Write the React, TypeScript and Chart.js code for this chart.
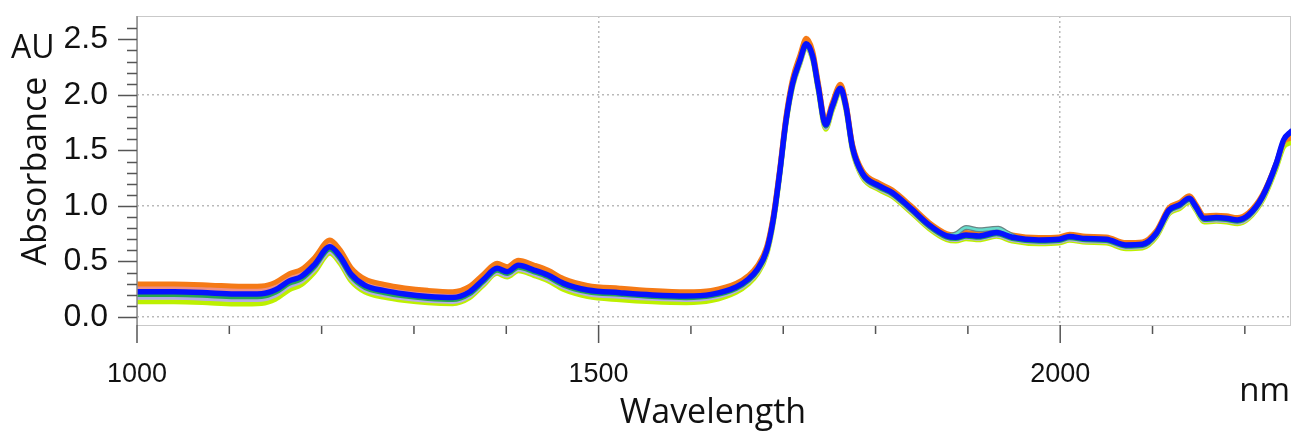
import { useEffect, useRef } from 'react';
import { Chart, registerables } from 'chart.js';

Chart.register(...registerables);

const wavelengths = [1000,1040,1080,1110,1135,1150,1165,1178,1192,1209,1220,1232,1247,1268,1290,1315,1342,1360,1375,1390,1401,1413,1430,1445,1462,1488,1523,1558,1595,1622,1649,1662,1672,1682,1689,1696,1703,1710,1718,1725,1732,1738,1746,1753,1762,1768,1775,1786,1804,1818,1838,1858,1877,1887,1898,1912,1931,1948,1977,1999,2010,2028,2050,2071,2089,2104,2118,2129,2140,2147,2156,2169,2180,2192,2204,2219,2234,2242,2250];

const blueSeries = [0.228,0.227,0.217,0.207,0.210,0.245,0.325,0.365,0.470,0.633,0.545,0.385,0.285,0.237,0.207,0.185,0.175,0.225,0.335,0.438,0.408,0.465,0.423,0.378,0.303,0.243,0.219,0.199,0.189,0.204,0.270,0.340,0.430,0.600,0.870,1.290,1.770,2.100,2.310,2.460,2.345,2.070,1.730,1.895,2.060,1.895,1.530,1.290,1.180,1.120,0.980,0.829,0.730,0.718,0.739,0.730,0.760,0.718,0.694,0.700,0.724,0.706,0.700,0.649,0.655,0.754,0.964,1.009,1.069,0.994,0.889,0.895,0.889,0.874,0.919,1.084,1.384,1.595,1.670];

const orangeSeries = [0.298,0.297,0.287,0.277,0.280,0.313,0.390,0.428,0.532,0.693,0.605,0.443,0.342,0.293,0.262,0.240,0.228,0.275,0.383,0.483,0.453,0.510,0.468,0.422,0.346,0.285,0.259,0.238,0.227,0.240,0.303,0.372,0.462,0.632,0.905,1.328,1.810,2.143,2.357,2.510,2.392,2.110,1.762,1.928,2.095,1.928,1.558,1.316,1.205,1.145,1.004,0.852,0.752,0.739,0.760,0.751,0.781,0.739,0.715,0.721,0.745,0.727,0.721,0.670,0.676,0.776,0.986,1.031,1.091,1.016,0.911,0.917,0.911,0.896,0.940,1.100,1.385,1.575,1.610];

const salmonSeries = [0.268,0.267,0.257,0.247,0.250,0.283,0.362,0.400,0.505,0.668,0.578,0.418,0.317,0.268,0.238,0.215,0.205,0.253,0.362,0.465,0.435,0.492,0.450,0.404,0.329,0.268,0.243,0.223,0.212,0.226,0.290,0.360,0.450,0.620,0.890,1.310,1.792,2.124,2.335,2.486,2.370,2.092,1.748,1.912,2.078,1.912,1.545,1.304,1.193,1.133,0.992,0.840,0.741,0.729,0.750,0.741,0.771,0.729,0.705,0.711,0.735,0.717,0.711,0.660,0.666,0.765,0.975,1.020,1.080,1.005,0.900,0.906,0.900,0.885,0.930,1.090,1.385,1.585,1.640];

const greenSeries = [0.203,0.202,0.192,0.182,0.185,0.222,0.303,0.343,0.450,0.613,0.525,0.365,0.265,0.218,0.188,0.167,0.157,0.208,0.318,0.422,0.392,0.449,0.407,0.362,0.287,0.227,0.204,0.184,0.174,0.190,0.257,0.328,0.418,0.588,0.858,1.278,1.758,2.088,2.298,2.448,2.333,2.058,1.718,1.883,2.048,1.883,1.518,1.278,1.168,1.108,0.968,0.818,0.719,0.707,0.728,0.719,0.749,0.707,0.683,0.689,0.713,0.695,0.689,0.638,0.644,0.743,0.953,0.998,1.058,0.983,0.878,0.884,0.878,0.863,0.908,1.072,1.370,1.580,1.655];

const lavenderSeries = [0.178,0.177,0.167,0.157,0.160,0.198,0.280,0.322,0.428,0.593,0.505,0.345,0.247,0.200,0.170,0.150,0.140,0.190,0.300,0.405,0.375,0.432,0.390,0.345,0.270,0.210,0.187,0.168,0.158,0.175,0.243,0.314,0.405,0.576,0.846,1.266,1.746,2.076,2.286,2.436,2.321,2.046,1.705,1.871,2.036,1.871,1.507,1.267,1.158,1.098,0.958,0.808,0.709,0.697,0.718,0.709,0.739,0.697,0.673,0.679,0.703,0.685,0.679,0.628,0.634,0.733,0.943,0.988,1.048,0.973,0.868,0.874,0.868,0.853,0.898,1.062,1.360,1.570,1.640];

const yellowGreenSeries = [0.138,0.137,0.127,0.117,0.122,0.160,0.245,0.290,0.400,0.573,0.483,0.323,0.225,0.177,0.148,0.128,0.120,0.172,0.285,0.393,0.360,0.417,0.373,0.326,0.248,0.184,0.155,0.137,0.129,0.147,0.222,0.295,0.388,0.560,0.832,1.254,1.735,2.066,2.277,2.428,2.310,2.033,1.690,1.858,2.025,1.860,1.495,1.255,1.145,1.085,0.945,0.795,0.696,0.684,0.705,0.696,0.726,0.684,0.660,0.666,0.690,0.672,0.666,0.615,0.621,0.720,0.930,0.975,1.035,0.960,0.855,0.861,0.855,0.840,0.885,1.048,1.340,1.530,1.570];

const bumpWavelengths = [1877,1887,1898,1912,1925,1933,1942,1952];
const tealBumpSeries = [0.732,0.748,0.806,0.785,0.795,0.800,0.762,0.716];

const yMajorTicks = [0, 0.5, 1.0, 1.5, 2.0, 2.5];
const yMinorTicks = [0.1,0.2,0.3,0.4,0.6,0.7,0.8,0.9,1.1,1.2,1.3,1.4,1.6,1.7,1.8,1.9,2.1,2.2,2.3,2.4,2.6];
const xMajorTicks = [1000, 1500, 2000];
const xMinorTicks = [1100,1200,1300,1400,1600,1700,1800,1900,2100,2200];

const yTitle = 'Absorbance';
const yUnit = 'AU';
const xTitle = 'Wavelength';
const xUnit = 'nm';

const toPoints = (xs: number[], ys: number[]) => xs.map((x, i) => ({ x, y: ys[i] }));

const line = (label: string, xs: number[], ys: number[], color: string, width: number) => ({
  label,
  data: toPoints(xs, ys),
  borderColor: color,
  backgroundColor: color,
  borderWidth: width,
  pointRadius: 0,
  fill: false,
  cubicInterpolationMode: 'monotone' as const,
  borderJoinStyle: 'round' as const,
  borderCapStyle: 'round' as const,
});

const decor = {
  id: 'decor',
  beforeDatasetsDraw(chart: any) {
    const { ctx, chartArea: a } = chart;
    ctx.save();
    ctx.strokeStyle = '#c9c9c9';
    ctx.lineWidth = 1;
    ctx.strokeRect(a.left + 0.5, a.top + 0.5, a.right - a.left - 1, a.bottom - a.top);
    ctx.restore();
  },
  afterDraw(chart: any) {
    const { ctx, chartArea: a, scales } = chart;
    const xs = scales.x;
    const ys = scales.y;
    ctx.save();
    ctx.strokeStyle = '#8a8a8a';
    ctx.lineWidth = 1.5;
    ctx.beginPath();
    ctx.moveTo(a.left, a.top);
    ctx.lineTo(a.left, a.bottom);
    ctx.stroke();
    ctx.strokeStyle = '#555';
    ctx.lineWidth = 1.5;
    ctx.beginPath();
    yMajorTicks.forEach((v) => {
      const p = Math.round(ys.getPixelForValue(v)) + 0.5;
      ctx.moveTo(a.left - 19, p);
      ctx.lineTo(a.left, p);
    });
    yMinorTicks.forEach((v) => {
      const p = Math.round(ys.getPixelForValue(v)) + 0.5;
      ctx.moveTo(a.left - 10, p);
      ctx.lineTo(a.left, p);
    });
    xMajorTicks.forEach((v) => {
      const p = xs.getPixelForValue(v);
      ctx.moveTo(p, a.bottom);
      ctx.lineTo(p, a.bottom + 18);
    });
    xMinorTicks.forEach((v) => {
      const p = xs.getPixelForValue(v);
      ctx.moveTo(p, a.bottom + 1);
      ctx.lineTo(p, a.bottom + 9);
    });
    ctx.stroke();

    ctx.fillStyle = '#111';
    ctx.font = '32px "Open Sans"';
    ctx.textBaseline = 'alphabetic';
    ctx.textAlign = 'left';
    ctx.fillText(yUnit, 11, 58);
    ctx.textAlign = 'right';
    ctx.font = '33px "Open Sans"';
    ctx.fillText(xUnit, 1290, 401);
    ctx.textAlign = 'center';
    ctx.font = '34px "Open Sans"';
    ctx.fillText(xTitle, 713, 423);
    ctx.translate(46, 171);
    ctx.rotate(-Math.PI / 2);
    ctx.fillText(yTitle, 0, 0);
    ctx.restore();
  },
};

export default function App() {
  const ref = useRef<HTMLCanvasElement>(null);
  useEffect(() => {
    document.body.style.margin = '0';
    const chart = new Chart(ref.current as HTMLCanvasElement, {
      type: 'line',
      data: {
        datasets: [
          line('S1', wavelengths, blueSeries, '#0612ff', 5.5),
          line('S2', bumpWavelengths, tealBumpSeries, '#66dccb', 2.5),
          line('S3', bumpWavelengths, tealBumpSeries, '#6a8585', 5),
          line('S4', wavelengths, orangeSeries, '#f57a16', 5),
          line('S5', wavelengths, greenSeries, '#27a84e', 5),
          line('S6', wavelengths, lavenderSeries, '#b5aae6', 5),
          line('S7', wavelengths, salmonSeries, '#ee8f85', 5),
          line('S8', wavelengths, yellowGreenSeries, '#bdf000', 5),
        ] as any,
      },
      options: {
        animation: false,
        responsive: false,
        layout: { padding: { top: 16, right: 2, left: 0, bottom: 0 }, autoPadding: false },
        plugins: { legend: { display: false }, tooltip: { enabled: false } },
        scales: {
          x: {
            type: 'linear',
            min: 1000,
            max: 2250,
            afterBuildTicks: (s: any) => { s.ticks = xMajorTicks.map((v) => ({ value: v })); },
            afterFit: (s: any) => { s.height = 107; s.paddingLeft = 0; s.paddingRight = 0; },
            ticks: {
              autoSkip: false,
              maxRotation: 0,
              minRotation: 0,
              padding: 33,
              color: '#111',
              font: { family: '"Liberation Sans", Arial, sans-serif', size: 27 },
              callback: (v: any) => String(v),
            },
            grid: {
              drawTicks: false,
              lineWidth: 1.5,
              color: (c: any) => (c.tick && c.tick.value > 1000 ? '#b9b9b9' : 'rgba(0,0,0,0)'),
            },
            border: { display: false, dash: [2, 3] },
          },
          y: {
            type: 'linear',
            min: -0.072,
            max: 2.71,
            afterBuildTicks: (s: any) => { s.ticks = yMajorTicks.map((v) => ({ value: v })); },
            afterFit: (s: any) => { s.width = 137; s.paddingTop = 0; s.paddingBottom = 0; },
            ticks: {
              autoSkip: false,
              padding: 29,
              color: '#111',
              font: { family: '"Liberation Sans", Arial, sans-serif', size: 32 },
              callback: (v: any) => Number(v).toFixed(1),
            },
            grid: {
              drawTicks: false,
              lineWidth: 1.5,
              color: (c: any) => {
                const v = c.tick ? c.tick.value : 0.5;
                return Math.abs(v - Math.round(v)) < 1e-6 ? '#b9b9b9' : 'rgba(0,0,0,0)';
              },
            },
            border: { display: false, dash: [2, 3] },
          },
        },
      },
      plugins: [decor],
    });
    return () => chart.destroy();
  }, []);
  return (
    <div style={{ position: 'absolute', left: 0, top: 0, width: 1293, height: 432 }}>
      <canvas ref={ref} width={1293} height={432} style={{ display: 'block' }} />
    </div>
  );
}
